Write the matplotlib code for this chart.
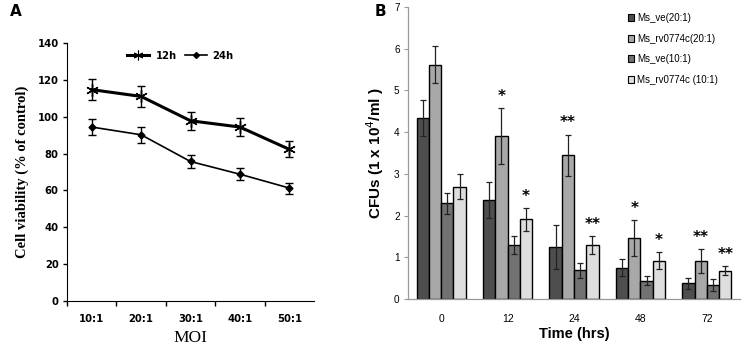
import numpy as np
import matplotlib
matplotlib.use("Agg")
import matplotlib.pyplot as plt
from matplotlib.patches import Patch
from matplotlib.lines import Line2D

# panel A data
moi = ["10:1", "20:1", "30:1", "40:1", "50:1"]
via_12h = [114.7, 111.0, 97.8, 94.4, 82.3]
err_12h = [5.5, 5.5, 5.0, 4.8, 4.3]
via_24h = [94.4, 90.2, 75.7, 68.8, 61.3]
err_24h = [4.5, 4.4, 3.6, 3.3, 3.0]

# panel B data
times = ["0", "12", "24", "48", "72"]
series = ["Ms_ve(20:1)", "Ms_rv0774c(20:1)", "Ms_ve(10:1)", "Ms_rv0774c (10:1)"]
cfu_ve20 = [4.34, 2.37, 1.25, 0.75, 0.38]
cfu_rv20 = [5.62, 3.90, 3.45, 1.46, 0.91]
cfu_ve10 = [2.29, 1.29, 0.69, 0.44, 0.33]
cfu_rv10 = [2.69, 1.91, 1.29, 0.92, 0.68]
sd_ve20 = [0.43, 0.43, 0.52, 0.21, 0.13]
sd_rv20 = [0.45, 0.67, 0.49, 0.43, 0.28]
sd_ve10 = [0.26, 0.22, 0.18, 0.10, 0.14]
sd_rv10 = [0.30, 0.27, 0.22, 0.21, 0.11]
stars_rv20 = ["", "*", "**", "*", "**"]
stars_rv10 = ["", "*", "**", "*", "**"]

bar_colors = ["#4e4e4e", "#a8a8a8", "#727272", "#dedede"]

fig = plt.figure(figsize=(7.43, 3.53), dpi=100)

# ---- A ----
axA = fig.add_axes([67/743, 1-301/353, 247/743, 258/353])
x = np.arange(len(moi))
axA.errorbar(x, via_12h, yerr=err_12h, color="black", lw=2.2, marker=(6, 2, 0),
             ms=9, mew=1.0, capsize=3, elinewidth=1, capthick=1, label="12h")
axA.errorbar(x, via_24h, yerr=err_24h, color="black", lw=1.2, marker="D",
             ms=3.5, capsize=3, elinewidth=1, capthick=1, label="24h")
axA.set_xlim(-0.5, 4.5)
axA.set_ylim(0, 140)
axA.set_yticks(range(0, 141, 20))
axA.set_xticks(x)
axA.set_xticklabels(moi)
axA.set_xticks(np.arange(-0.5, 4.0, 1.0), minor=True)
axA.tick_params(axis="x", which="major", length=0, pad=9)
axA.tick_params(axis="x", which="minor", length=3.5, direction="out", width=1)
axA.tick_params(axis="y", length=3, width=1, pad=3)
for lab in axA.get_xticklabels() + axA.get_yticklabels():
    lab.set_fontweight("bold")
    lab.set_fontsize(7.2)
for s in ["top", "right"]:
    axA.spines[s].set_visible(False)
axA.set_ylabel("Cell viability (% of control)", family="Liberation Serif",
               fontweight="bold", fontsize=10.5, labelpad=6)
axA.set_xlabel("MOI", family="Liberation Serif", fontsize=12.5, labelpad=5)
legA = [Line2D([], [], color="black", lw=2.2, marker=(6, 2, 0), ms=7, mew=0.8),
        Line2D([], [], color="black", lw=1.2, marker="D", ms=3)]
axA.legend(legA, ["12h", "24h"], ncol=2, loc="center", bbox_to_anchor=(0.46, 0.95),
           frameon=False, prop={"weight": "bold", "size": 7.2},
           handlelength=2.2, handletextpad=0.6, columnspacing=0.8)
fig.text(10/743, 1-12/353, "A", fontsize=11, fontweight="bold", va="center")

# ---- B ----
axB = fig.add_axes([408/743, 1-299/353, 332/743, 292/353])
g = np.arange(len(times))
w = 0.185
vals = [cfu_ve20, cfu_rv20, cfu_ve10, cfu_rv10]
sds = [sd_ve20, sd_rv20, sd_ve10, sd_rv10]
for i in range(4):
    pos = g + (i - 1.5) * w
    axB.bar(pos, vals[i], w, color=bar_colors[i], edgecolor="black", lw=1.0,
            yerr=sds[i], error_kw=dict(ecolor="#222222", elinewidth=0.9, capsize=2, capthick=0.9))
for i, stars in [(1, stars_rv20), (3, stars_rv10)]:
    for j, s in enumerate(stars):
        if s:
            axB.annotate(s, (g[j] + (i - 1.5) * w, vals[i][j] + sds[i][j]),
                         xytext=(0, 3), textcoords="offset points", ha="center",
                         va="bottom", fontsize=11, fontweight="bold")
axB.set_xlim(-0.5, 4.5)
axB.set_ylim(0, 7)
axB.set_xticks(g)
axB.set_xticklabels(times)
axB.tick_params(axis="x", length=0, pad=11, labelsize=7.5)
axB.tick_params(axis="y", length=3, width=0.8, color="#999999", labelsize=7.2, pad=3)
for lab in axB.get_xticklabels() + axB.get_yticklabels():
    lab.set_family("Liberation Sans")
for s in ["top", "right"]:
    axB.spines[s].set_visible(False)
for s in ["left", "bottom"]:
    axB.spines[s].set_color("#999999")
    axB.spines[s].set_linewidth(0.9)
axB.set_xlabel("Time (hrs)", family="Liberation Sans", fontweight="bold", fontsize=10.5, labelpad=2)
axB.set_ylabel("CFUs (1 x 10$^{4}$/ml )", family="Liberation Sans", fontweight="bold",
               fontsize=11, labelpad=6)
legB = [Patch(facecolor=c, edgecolor="black", lw=0.8) for c in bar_colors]
axB.legend(legB, series, loc="upper left", bbox_to_anchor=(0.635, 1.01), frameon=False,
           prop={"family": "Liberation Sans", "size": 7}, handlelength=0.7,
           handleheight=0.7, handletextpad=0.3, labelspacing=1.1)
fig.text(375/743, 1-12/353, "B", fontsize=11, fontweight="bold", va="center")

fig.savefig("out.png", dpi=100)
